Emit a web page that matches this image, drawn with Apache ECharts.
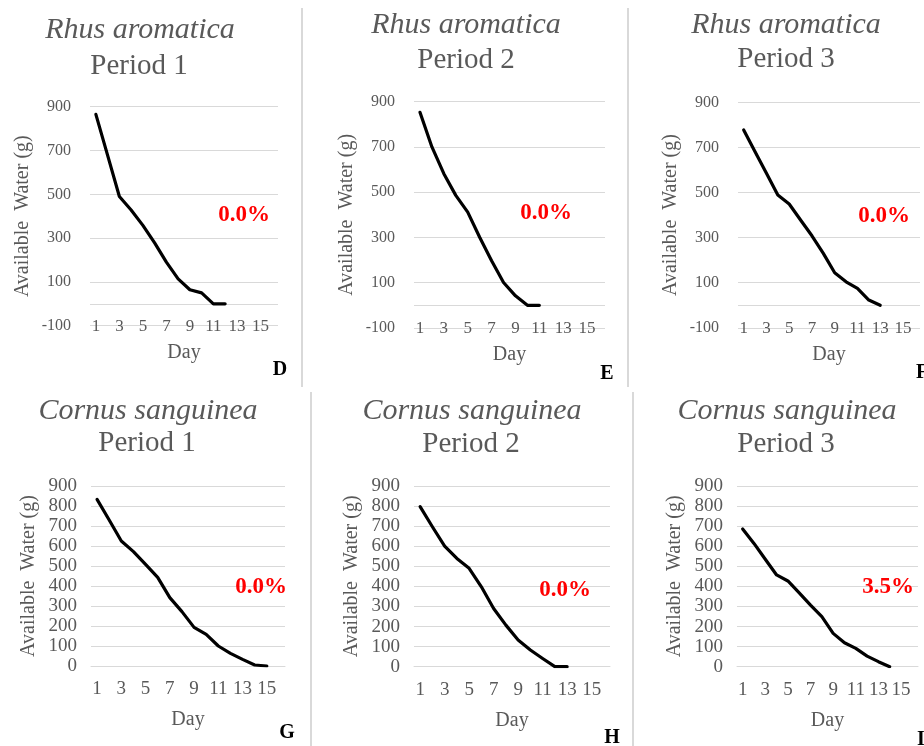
<!DOCTYPE html>
<html>
<head>
<meta charset="utf-8">
<script src="https://cdn.jsdelivr.net/npm/echarts@6/dist/echarts.min.js"></script>
<style>html,body{margin:0;padding:0;background:#fff}#c{width:924px;height:746px}</style>
</head>
<body>
<div id="c"></div>
<script>
// ---- data ----
const days = ['1','2','3','4','5','6','7','8','9','10','11','12','13','14','15','16'];
const species = ['Rhus aromatica','Rhus aromatica','Rhus aromatica','Cornus sanguinea','Cornus sanguinea','Cornus sanguinea'];
const periods = ['Period 1','Period 2','Period 3','Period 1','Period 2','Period 3'];
const percents = ['0.0%','0.0%','0.0%','0.0%','0.0%','3.5%'];
const letters = ['D','E','F','G','H','I'];
const yTicksTop = [-100, 100, 300, 500, 700, 900];
const yTicksBottom = [0, 100, 200, 300, 400, 500, 600, 700, 800, 900];
const waterD = [865, 678, 490, 428, 358, 278, 190, 114, 64, 50, 0, 0];
const waterE = [853, 700, 582, 486, 412, 301, 197, 101, 42, 0, 0];
const waterF = [777, 681, 585, 489, 449, 378, 308, 230, 144, 104, 75, 23, 0];
const waterG = [833, 730, 625, 572, 508, 443, 342, 272, 193, 158, 100, 63, 33, 5, 0];
const waterH = [797, 697, 601, 539, 490, 398, 290, 207, 133, 83, 41, 0, 0];
const waterI = [686, 614, 535, 457, 427, 368, 307, 249, 166, 119, 91, 53, 25, 0];
const seriesData = [waterD, waterE, waterF, waterG, waterH, waterI];

// ---- layout ----
const layout = [
  {grid:{left:90, top:106.7, width:188, height:219}, sp:[140,31], pe:[139,67], pct:[244,215], let:[280,370], top:true},
  {grid:{left:414, top:101.7, width:191, height:226.3}, sp:[466,26], pe:[466,61], pct:[546,213], let:[607,374], top:true},
  {grid:{left:738, top:102.3, width:182, height:225.5}, sp:[786,26], pe:[786,60], pct:[884,216], let:[922,373], top:true},
  {grid:{left:91, top:486, width:194, height:180}, sp:[148,412], pe:[147,444], pct:[261,587], let:[287,733], top:false},
  {grid:{left:414, top:486, width:196, height:180.7}, sp:[472,412], pe:[471,445], pct:[565,590], let:[612,738], top:false},
  {grid:{left:737, top:486, width:181, height:180.7}, sp:[787,412], pe:[786,445], pct:[888,587], let:[921,740], top:false}
];

const FONT = 'Liberation Serif';
const GRAY = '#595959';
const GRID_C = '#d9d9d9';

const grids = [], xAxes = [], yAxes = [], series = [], titles = [], graphics = [];

layout.forEach((L, i) => {
  const ticks = L.top ? yTicksTop : yTicksBottom;
  const fs = L.top ? 16 : 19;
  grids.push(Object.assign({containLabel:false}, L.grid));
  xAxes.push({
    type:'category', gridIndex:i, data:days, boundaryGap:true,
    axisLine:{show:!L.top, onZero:false, lineStyle:{color:GRID_C}},
    axisTick:{show:false},
    axisLabel:{interval:1, color:GRAY, fontFamily:FONT, fontSize:L.top ? 17 : 19, margin: L.top ? -8 : 14},
    name:'Day', nameLocation:'middle', nameGap: L.top ? 17 : 44,
    nameTextStyle:{color:GRAY, fontFamily:FONT, fontSize:20}
  });
  yAxes.push({
    type:'value', gridIndex:i,
    min:ticks[0], max:ticks[ticks.length-1], interval:ticks[1]-ticks[0],
    axisLine:{show:false}, axisTick:{show:false},
    splitLine:{lineStyle:{color:GRID_C, width:1}},
    axisLabel:{color:GRAY, fontFamily:FONT, fontSize:fs, margin: L.top ? 19 : 14},
    name:'Available  Water (g)', nameLocation:'middle', nameGap: L.top ? 57 : 52,
    nameTextStyle:{color:GRAY, fontFamily:FONT, fontSize:20}
  });
  const s = {
    type:'line', xAxisIndex:i, yAxisIndex:i, data:seriesData[i],
    showSymbol:false, symbol:'none', smooth:false,
    lineStyle:{color:'#000', width:3.2, join:'round', cap:'round'},
    itemStyle:{color:'#000'}, silent:true, z:5
  };
  if (L.top) {
    s.markLine = {silent:true, symbol:'none', label:{show:false},
      lineStyle:{color:GRID_C, type:'solid', width:1}, data:[{yAxis:0}], z:1};
  }
  series.push(s);
  titles.push({text:species[i], left:L.sp[0], top:L.sp[1]-16, textAlign:'center', padding:0,
    textStyle:{fontFamily:FONT, fontStyle:'italic', fontWeight:'normal', fontSize:30, color:GRAY}});
  titles.push({text:periods[i], left:L.pe[0], top:L.pe[1]-15, textAlign:'center', padding:0,
    textStyle:{fontFamily:FONT, fontWeight:'normal', fontSize:29, color:GRAY}});
  graphics.push({type:'text', x:L.pct[0], y:L.pct[1], z:10,
    style:{text:percents[i], fill:'#ff0000', font:'bold 23px "Liberation Serif"', textAlign:'center', textVerticalAlign:'middle', align:'center', verticalAlign:'middle'}});
  graphics.push({type:'text', x:L.let[0], y:L.let[1], z:10,
    style:{text:letters[i], fill:'#000', font:'bold 20px "Liberation Serif"', textAlign:'center', textVerticalAlign:'middle', align:'center', verticalAlign:'middle'}});
});

// frame separators
[[302,8,302,387],[628,8,628,387],[311,392,311,746],[633,392,633,746]].forEach(p => {
  graphics.push({type:'line', shape:{x1:p[0],y1:p[1],x2:p[2],y2:p[3]}, style:{stroke:GRID_C, lineWidth:2}, silent:true});
});

const chart = echarts.init(document.getElementById('c'), null, {renderer:'canvas'});
chart.setOption({
  animation:false,
  backgroundColor:'#ffffff',
  title:titles, grid:grids, xAxis:xAxes, yAxis:yAxes, series:series, graphic:graphics
});
</script>
</body>
</html>
